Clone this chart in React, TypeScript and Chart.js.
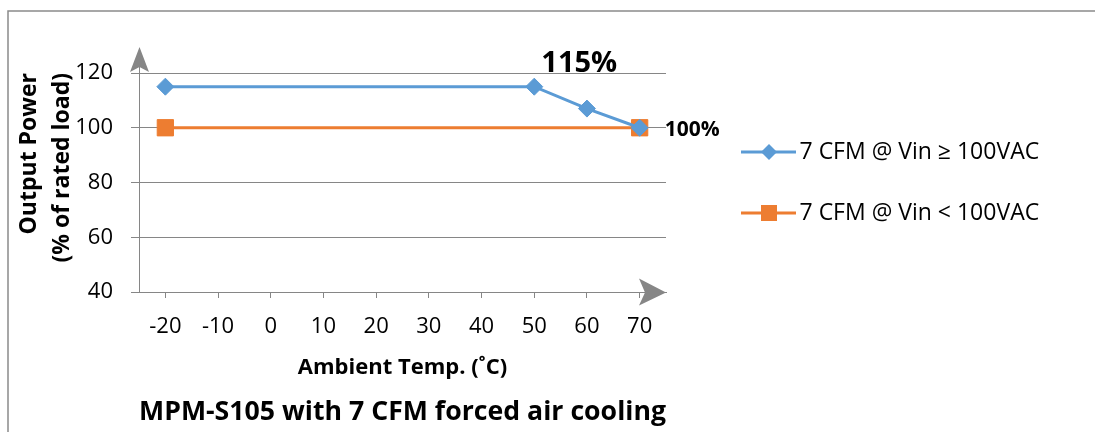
import React, { useEffect, useRef } from "react";
import { Chart, registerables } from "chart.js";

Chart.register(...registerables);

const categories = ["-20", "-10", "0", "10", "20", "30", "40", "50", "60", "70"];
const seriesHigh = [115, null, null, null, null, null, null, 115, 107, 100];
const seriesLow = [100, null, null, null, null, null, null, null, null, 100];
const seriesNames = ["7 CFM @ Vin \u2265 100VAC", "7 CFM @ Vin < 100VAC"];
const yTickValues = [40, 60, 80, 100, 120];
const yTitle = ["Output Power", "(% of rated load)"];
const xTitle = "Ambient Temp. (\u02DAC)";
const chartTitle = "MPM-S105 with 7 CFM forced air cooling";
const peakLabel = "115%";
const endLabel = "100%";

const FONT = '"Open Sans", "DejaVu Sans", sans-serif';
const BLUE = "#5B9BD5";
const ORANGE = "#ED7D31";
const GRAY = "#868686";
const LEGEND_W = 429;

function legendImage(color: string, marker: "diamond" | "square") {
  const c = document.createElement("canvas");
  c.width = 100;
  c.height = 20;
  const g = c.getContext("2d")!;
  g.strokeStyle = color;
  g.lineWidth = 3;
  g.beginPath();
  g.moveTo(45, 10);
  g.lineTo(100, 10);
  g.stroke();
  g.fillStyle = color;
  if (marker === "diamond") {
    g.beginPath();
    g.moveTo(73, 2);
    g.lineTo(81, 10);
    g.lineTo(73, 18);
    g.lineTo(65, 10);
    g.closePath();
    g.fill();
  } else {
    g.fillRect(65, 2, 16, 16);
  }
  return c;
}

export default function App() {
  const ref = useRef<HTMLCanvasElement | null>(null);

  useEffect(() => {
    if (!ref.current) return;
    const imgs = [legendImage(BLUE, "diamond"), legendImage(ORANGE, "square")];

    const widenLegend = {
      id: "widenLegend",
      beforeLayout(chart: any) {
        const lg = chart.legend;
        if (lg && !lg.__widened) {
          const orig = lg.update.bind(lg);
          lg.update = (mw: number, mh: number, mg: any) => {
            orig(LEGEND_W, mh, mg);
            lg.width = LEGEND_W;
          };
          lg.__widened = true;
        }
      },
    };

    const decor = {
      id: "decor",
      beforeDraw(chart: any) {
        const { ctx } = chart;
        ctx.save();
        ctx.fillStyle = "#fff";
        ctx.fillRect(0, 0, chart.width, chart.height);
        ctx.strokeStyle = "#8a8a8a";
        ctx.lineWidth = 1.5;
        ctx.strokeRect(8, 11, 2000, 2000);
        ctx.restore();
      },
      afterDatasetsDraw(chart: any) {
        const { ctx } = chart;
        const p1 = chart.getDatasetMeta(0).data[7];
        const p2 = chart.getDatasetMeta(1).data[9];
        ctx.save();
        ctx.fillStyle = "#000";
        ctx.textBaseline = "middle";
        ctx.font = `bold 29px ${FONT}`;
        ctx.textAlign = "center";
        ctx.fillText(peakLabel, p1.x + 45, p1.y - 23);
        ctx.font = `bold 21px ${FONT}`;
        ctx.textAlign = "left";
        ctx.fillText(endLabel, p2.x + 25, p2.y + 2);
        ctx.restore();
      },
      afterDraw(chart: any) {
        const { ctx, chartArea: a } = chart;
        ctx.save();
        ctx.strokeStyle = GRAY;
        ctx.fillStyle = GRAY;
        ctx.lineWidth = 1;
        ctx.beginPath();
        ctx.moveTo(a.left + 0.5, a.top);
        ctx.lineTo(a.left + 0.5, a.top - 10);
        ctx.stroke();
        ctx.beginPath();
        ctx.moveTo(a.left + 0.5, a.top - 26);
        ctx.lineTo(a.left + 10, a.top - 1);
        ctx.lineTo(a.left + 0.5, a.top - 6);
        ctx.lineTo(a.left - 9, a.top - 1);
        ctx.closePath();
        ctx.fill();
        const y = a.bottom + 0.5;
        ctx.beginPath();
        ctx.moveTo(a.right, y);
        ctx.lineTo(a.right - 27, y - 14);
        ctx.lineTo(a.right - 21, y);
        ctx.lineTo(a.right - 27, y + 13);
        ctx.closePath();
        ctx.fill();
        ctx.restore();
      },
    };

    const chart = new Chart(ref.current, {
      type: "line",
      data: {
        labels: categories,
        datasets: [
          {
            label: seriesNames[0],
            data: seriesHigh,
            borderColor: BLUE,
            backgroundColor: BLUE,
            borderWidth: 3,
            pointStyle: "rectRot",
            pointRadius: 8.5,
            pointBorderWidth: 1,
            pointBackgroundColor: BLUE,
            pointBorderColor: BLUE,
            spanGaps: true,
            tension: 0,
          },
          {
            label: seriesNames[1],
            data: seriesLow,
            borderColor: ORANGE,
            backgroundColor: ORANGE,
            borderWidth: 3,
            pointStyle: "rect",
            pointRadius: 11.5,
            pointBorderWidth: 1,
            pointBackgroundColor: ORANGE,
            pointBorderColor: ORANGE,
            spanGaps: true,
            tension: 0,
          },
        ],
      },
      options: {
        responsive: false,
        animation: false,
        devicePixelRatio: 1,
        layout: { padding: { top: 73, right: 0, bottom: 0, left: 0 } },
        scales: {
          x: {
            type: "category",
            offset: true,
            grid: {
              offset: false,
              drawOnChartArea: false,
              drawTicks: true,
              tickLength: 6,
              color: GRAY,
            },
            border: { display: true, color: GRAY, width: 1 },
            ticks: {
              font: { family: FONT, size: 22 },
              color: "#000",
              padding: 16,
              maxRotation: 0,
              autoSkip: false,
            },
            title: {
              display: true,
              text: xTitle,
              font: { family: FONT, size: 22, weight: "bold" },
              color: "#000",
              padding: { top: 0, bottom: 6 },
            },
            afterFit: (s: any) => {
              s.height = 94.6;
            },
          },
          y: {
            min: yTickValues[0],
            max: yTickValues[yTickValues.length - 1],
            afterBuildTicks: (s: any) => {
              s.ticks = yTickValues.map((v) => ({ value: v }));
            },
            grid: { color: GRAY, tickLength: 8, drawTicks: true },
            border: { display: true, color: GRAY, width: 1 },
            ticks: {
              font: { family: FONT, size: 22 },
              color: "#000",
              padding: 18,
            },
            title: {
              display: true,
              text: yTitle,
              align: "end",
              font: { family: FONT, size: 23, weight: "bold", lineHeight: 1.435 },
              color: "#000",
              padding: { top: 12.5, bottom: 0 },
            },
            afterFit: (s: any) => {
              s.width = 139;
            },
          },
        },
        plugins: {
          tooltip: { enabled: false },
          title: {
            display: true,
            text: chartTitle,
            position: "bottom",
            align: "start",
            fullSize: false,
            font: { family: FONT, size: 27, weight: "bold" },
            color: "#000",
            padding: { top: 10, bottom: 3 },
          },
          legend: {
            position: "right",
            align: "center",
            fullSize: false,
            labels: {
              usePointStyle: true,
              pointStyleWidth: 84,
              padding: 38,
              color: "#000",
              font: { family: FONT, size: 23 },
              generateLabels: (c: any) =>
                c.data.datasets.map((ds: any, i: number) => ({
                  text: ds.label,
                  pointStyle: imgs[i],
                  fillStyle: ds.borderColor,
                  strokeStyle: ds.borderColor,
                  lineWidth: 0,
                  hidden: false,
                  datasetIndex: i,
                  fontColor: "#000",
                })),
            },
          },
        },
      } as any,
      plugins: [widenLegend, decor],
    });

    return () => chart.destroy();
  }, []);

  return (
    <canvas
      ref={ref}
      width={1095}
      height={432}
      style={{ position: "fixed", left: 0, top: 0, width: 1095, height: 432 }}
    />
  );
}
